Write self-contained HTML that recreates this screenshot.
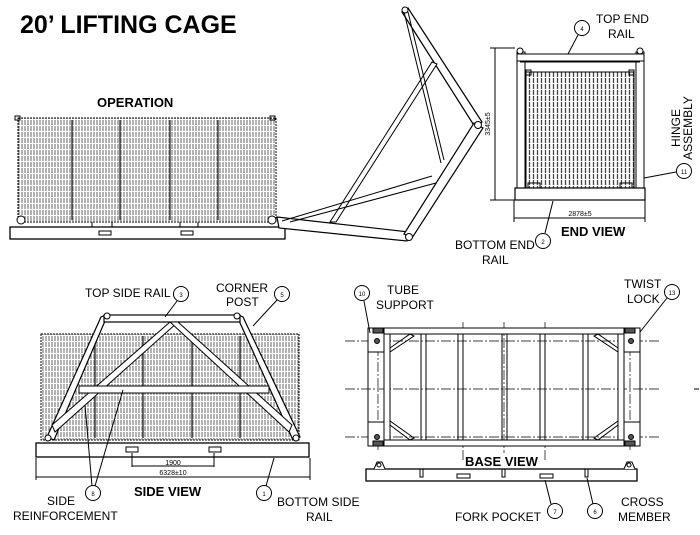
<!DOCTYPE html>
<html><head><meta charset="utf-8"><style>
html,body{margin:0;padding:0;background:#fff;width:700px;height:535px;overflow:hidden}
svg{display:block}
text{font-family:"Liberation Sans",Arial,sans-serif;fill:#000}
.l{font-size:12px}
.b{font-weight:bold}
.n{font-size:6px}
</style></head><body>
<svg width="700" height="535" viewBox="0 0 700 535" xmlns="http://www.w3.org/2000/svg">
<defs>
<pattern id="mesh" width="3" height="6" patternUnits="userSpaceOnUse">
<rect width="3" height="6" fill="#fff"/><line x1="1" y1="0" x2="1" y2="6" stroke="#666" stroke-width="1" stroke-dasharray="5,1"/>
</pattern>
<pattern id="meshv" width="4" height="6" patternUnits="userSpaceOnUse">
<rect width="4" height="6" fill="#fff"/><line x1="1.5" y1="0" x2="1.5" y2="6" stroke="#444" stroke-width="1.3" stroke-dasharray="5,1"/>
</pattern>
</defs>
<text x="20" y="33" class="b" font-size="25">20’ LIFTING CAGE</text>
<text x="97" y="107" class="b" font-size="13">OPERATION</text>

<!-- OPERATION VIEW -->
<g stroke="#000" fill="none" stroke-width="1">
<rect x="18" y="118" width="258" height="104" fill="url(#mesh)" stroke-dasharray="2,1"/>
<g stroke="#444" stroke-width="1.5"><line x1="72" y1="120" x2="72" y2="220"/><line x1="120" y1="120" x2="120" y2="220"/><line x1="170" y1="120" x2="170" y2="220"/><line x1="218" y1="120" x2="218" y2="220"/></g>
<rect x="15" y="116" width="5" height="4"/><rect x="270" y="116" width="5" height="4"/>
<rect x="10" y="227" width="275" height="12" fill="#fff" stroke-width="1.3"/>
<rect x="99" y="231" width="12" height="4"/><rect x="181" y="231" width="12" height="4"/>
<circle cx="21" cy="220" r="4" fill="#fff"/><circle cx="272" cy="220" r="4" fill="#fff"/>
<line x1="92" y1="222" x2="92" y2="227"/><line x1="112" y1="222" x2="112" y2="227"/>
<line x1="180" y1="222" x2="180" y2="227"/><line x1="198" y1="222" x2="198" y2="227"/>
<polygon points="277,217 409,232 407,241 279,228" fill="#fff" stroke-width="1.2"/>
<polygon points="402,12 408,8 482,122 475,127" fill="#fff" stroke-width="1.2"/>
<polygon points="474,123 483,128 412,238 404,234" fill="#fff" stroke-width="1.2"/>
<polygon points="330,222 336,222 437,64 432,62" fill="#fff" stroke-width="1"/>
<line x1="404" y1="12" x2="441" y2="163"/><line x1="408" y1="12" x2="444" y2="160"/>
<line x1="282" y1="221" x2="432" y2="176"/><line x1="290" y1="222" x2="436" y2="183"/>
<circle cx="405" cy="10" r="3" fill="#fff"/><circle cx="478" cy="125" r="3.5" fill="#fff"/><circle cx="409" cy="237" r="3.5" fill="#fff"/>
</g>

<!-- END VIEW -->
<g stroke="#000" fill="none" stroke-width="1">
<rect x="526" y="72" width="108" height="116" fill="url(#meshv)"/>
<rect x="517" y="52" width="8" height="148" fill="#fff"/>
<rect x="636" y="52" width="8" height="148" fill="#fff"/>
<rect x="517" y="54" width="127" height="7" fill="#fff"/>
<line x1="520" y1="62" x2="640" y2="62"/>
<rect x="515" y="188" width="130" height="12" fill="#fff" stroke-width="1.2"/>
<rect x="528" y="183" width="12" height="5"/><rect x="620" y="183" width="12" height="5"/>
<circle cx="520" cy="51" r="3" fill="#fff"/><circle cx="640" cy="51" r="3" fill="#fff"/>
<rect x="526" y="70" width="5" height="5"/><rect x="629" y="70" width="5" height="5"/>
<line x1="495" y1="48" x2="495" y2="200"/><line x1="490" y1="48" x2="515" y2="48"/><line x1="490" y1="200" x2="515" y2="200"/>
<line x1="514" y1="200" x2="514" y2="222"/><line x1="645" y1="200" x2="645" y2="222"/><line x1="514" y1="218" x2="645" y2="218"/>
<circle cx="582" cy="28" r="7.5" fill="#fff"/><line x1="578" y1="35" x2="568" y2="54"/>
<circle cx="543" cy="241" r="7.5" fill="#fff"/><line x1="545" y1="233" x2="553" y2="201"/>
<circle cx="684" cy="171" r="7.5" fill="#fff"/><line x1="676" y1="172" x2="644" y2="178"/>
</g>
<text x="582" y="31" class="n" text-anchor="middle">4</text>
<text x="543" y="244" class="n" text-anchor="middle">2</text>
<text x="684" y="174" class="n" text-anchor="middle">11</text>
<text x="596" y="23" class="l">TOP END</text>
<text x="608" y="38" class="l">RAIL</text>
<text x="490" y="124" font-size="7" transform="rotate(-90 490 124)" text-anchor="middle">3345±5</text>
<text x="580" y="216" font-size="7" text-anchor="middle">2878±5</text>
<text x="561" y="236" class="b" font-size="13">END VIEW</text>
<text x="455" y="249" class="l">BOTTOM END</text>
<text x="482" y="264" class="l">RAIL</text>
<text x="0" y="0" class="l" text-anchor="middle" transform="translate(680,128) rotate(-90)">HINGE</text>
<text x="0" y="0" class="l" text-anchor="middle" transform="translate(692,128) rotate(-90)">ASSEMBLY</text>

<!-- SIDE VIEW -->
<g stroke="#000" fill="none" stroke-width="1">
<rect x="41" y="334" width="258" height="106" fill="url(#mesh)" stroke-dasharray="2,1"/>
<g stroke="#444" stroke-width="1.5"><line x1="95" y1="336" x2="95" y2="438"/><line x1="143" y1="336" x2="143" y2="438"/><line x1="192" y1="336" x2="192" y2="438"/><line x1="240" y1="336" x2="240" y2="438"/></g>
<rect x="36" y="443" width="273" height="14" fill="#fff" stroke-width="1.3"/>
<rect x="126" y="447" width="12" height="5"/><rect x="209" y="447" width="12" height="5"/>
<polygon points="101,317 108,314 54,440 47,437" fill="#fff" stroke-width="1.2"/>
<polygon points="236,314 243,317 300,437 293,440" fill="#fff" stroke-width="1.2"/>
<rect x="104" y="315" width="136" height="7" fill="#fff" stroke-width="1.2"/>
<polygon points="170,322 178,322 55,432 52,425" fill="#fff"/>
<polygon points="170,322 178,322 292,425 289,432" fill="#fff"/>
<rect x="79" y="386" width="190" height="7" fill="#fff"/>
<circle cx="107" cy="316" r="3" fill="#fff"/><circle cx="237" cy="316" r="3" fill="#fff"/>
<circle cx="48" cy="438" r="3" fill="#fff"/><circle cx="296" cy="438" r="3" fill="#fff"/>
<line x1="132" y1="453" x2="132" y2="467"/><line x1="214" y1="453" x2="214" y2="467"/><line x1="132" y1="466" x2="214" y2="466"/>
<line x1="36" y1="458" x2="36" y2="480"/><line x1="310" y1="458" x2="310" y2="480"/><line x1="36" y1="477" x2="310" y2="477"/>
<circle cx="181" cy="294" r="7.5" fill="#fff"/><line x1="177" y1="301" x2="165" y2="317"/>
<circle cx="282" cy="294" r="7.5" fill="#fff"/><line x1="277" y1="300" x2="253" y2="326"/>
<circle cx="93" cy="493" r="7.5" fill="#fff"/><line x1="92" y1="486" x2="85" y2="405"/><line x1="95" y1="486" x2="123" y2="390"/>
<circle cx="264" cy="493" r="7.5" fill="#fff"/><line x1="266" y1="486" x2="274" y2="458"/>
</g>
<text x="181" y="297" class="n" text-anchor="middle">3</text>
<text x="282" y="297" class="n" text-anchor="middle">5</text>
<text x="93" y="496" class="n" text-anchor="middle">8</text>
<text x="264" y="496" class="n" text-anchor="middle">1</text>
<text x="85" y="297" class="l">TOP SIDE RAIL</text>
<text x="216" y="292" class="l">CORNER</text>
<text x="226" y="306" class="l">POST</text>
<text x="173" y="465" font-size="7" text-anchor="middle">1900</text>
<text x="173" y="475" font-size="7" text-anchor="middle">6328±10</text>
<text x="134" y="496" class="b" font-size="13">SIDE VIEW</text>
<text x="47" y="505" class="l">SIDE</text>
<text x="13" y="520" class="l">REINFORCEMENT</text>
<text x="277" y="506" class="l">BOTTOM SIDE</text>
<text x="306" y="521" class="l">RAIL</text>

<!-- BASE VIEW -->
<g stroke="#000" fill="none" stroke-width="1">
<g stroke-dasharray="10,2,2,2" stroke-width="0.7">
<line x1="345" y1="341" x2="660" y2="341"/><line x1="345" y1="389" x2="660" y2="389"/><line x1="345" y1="437" x2="660" y2="437"/>
<line x1="463" y1="322" x2="463" y2="462"/><line x1="504" y1="322" x2="504" y2="462"/><line x1="545" y1="322" x2="545" y2="462"/>
<line x1="378" y1="330" x2="378" y2="450"/><line x1="630" y1="330" x2="630" y2="450"/>
</g>
<line x1="694" y1="389" x2="699" y2="389"/>
<rect x="368" y="328" width="272" height="118"/>
<rect x="368" y="328" width="272" height="6" fill="#fff"/>
<rect x="368" y="440" width="272" height="6" fill="#fff"/>
<rect x="384" y="334" width="6" height="106" fill="#fff"/>
<rect x="618" y="334" width="6" height="106" fill="#fff"/>
<rect x="421" y="334" width="5" height="106"/><rect x="458" y="334" width="5" height="106"/>
<rect x="502" y="334" width="5" height="106"/><rect x="540" y="334" width="5" height="106"/>
<rect x="583" y="334" width="5" height="106"/>
<polygon points="390,348 410,334 414,336 390,352"/>
<polygon points="618,348 598,334 594,336 618,352"/>
<polygon points="390,425 410,440 414,438 390,421"/>
<polygon points="618,425 598,440 594,438 618,421"/>
<rect x="368" y="328" width="16" height="24" fill="#fff"/><rect x="624" y="328" width="16" height="24" fill="#fff"/>
<rect x="368" y="422" width="16" height="24" fill="#fff"/><rect x="624" y="422" width="16" height="24" fill="#fff"/>
<rect x="373" y="328" width="10" height="5" fill="#555"/><rect x="625" y="328" width="10" height="5" fill="#555"/>
<rect x="373" y="441" width="10" height="5" fill="#555"/><rect x="625" y="441" width="10" height="5" fill="#555"/>
<circle cx="377" cy="341" r="2.5" fill="#555"/><circle cx="631" cy="341" r="2.5" fill="#555"/>
<circle cx="377" cy="437" r="2.5" fill="#555"/><circle cx="631" cy="437" r="2.5" fill="#555"/>
<rect x="366" y="469" width="271" height="12" fill="#fff" stroke-width="1.3"/>
<rect x="457" y="474" width="13" height="4"/><rect x="540" y="474" width="13" height="4"/>
<path d="M420,469v8h3v-8M502,469v8h3v-8M585,469v8h3v-8"/>
<path d="M374,469l3,-7h5l3,7" fill="#fff"/><circle cx="379" cy="465" r="2" fill="#fff"/>
<path d="M624,469l3,-7h5l3,7" fill="#fff"/><circle cx="629" cy="465" r="2" fill="#fff"/>
<circle cx="362" cy="293" r="7.5" fill="#fff"/><line x1="364" y1="301" x2="370" y2="333"/>
<circle cx="672" cy="292" r="7.5" fill="#fff"/><line x1="667" y1="298" x2="640" y2="332"/>
<circle cx="555" cy="511" r="7.5" fill="#fff"/><line x1="551" y1="504" x2="545" y2="480"/>
<circle cx="595" cy="511" r="7.5" fill="#fff"/><line x1="593" y1="504" x2="587" y2="478"/>
</g>
<text x="362" y="296" class="n" text-anchor="middle">10</text>
<text x="672" y="295" class="n" text-anchor="middle">13</text>
<text x="555" y="514" class="n" text-anchor="middle">7</text>
<text x="595" y="514" class="n" text-anchor="middle">6</text>
<text x="387" y="294" class="l">TUBE</text>
<text x="376" y="309" class="l">SUPPORT</text>
<text x="624" y="288" class="l">TWIST</text>
<text x="627" y="303" class="l">LOCK</text>
<rect x="465" y="453" width="76" height="15" fill="#fff"/>
<text x="465" y="466" class="b" font-size="13">BASE VIEW</text>
<text x="455" y="521" class="l">FORK POCKET</text>
<text x="621" y="506" class="l">CROSS</text>
<text x="618" y="521" class="l">MEMBER</text>
</svg>
</body></html>
